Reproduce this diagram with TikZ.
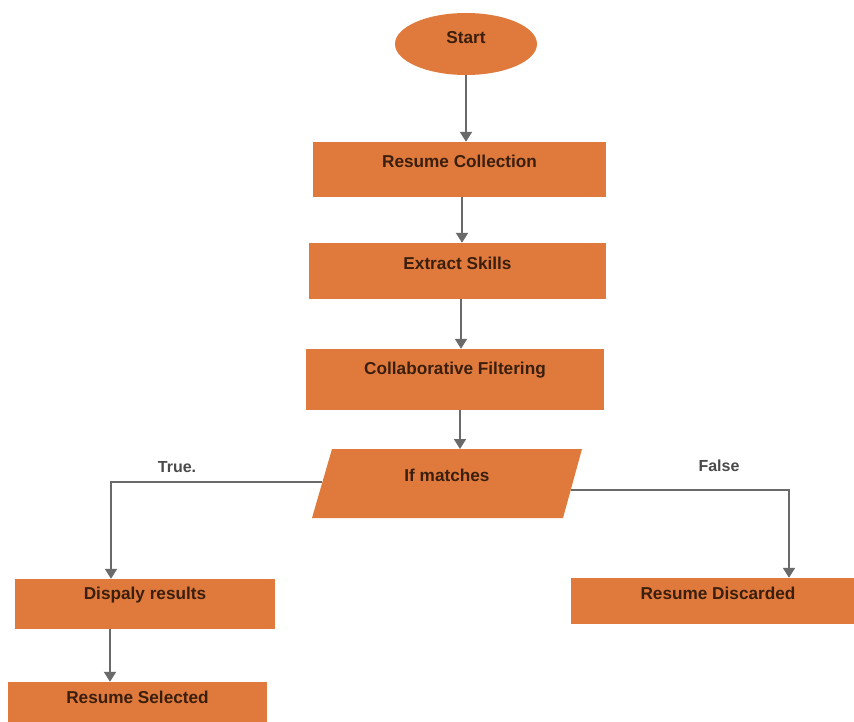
\documentclass[tikz,border=0pt]{standalone}
\usepackage{fontspec}
\setmainfont{Liberation Sans}
\usetikzlibrary{arrows.meta,shapes.geometric,calc}
\definecolor{boxfill}{HTML}{E07A3C}
\definecolor{boxtext}{HTML}{3A1E0E}
\definecolor{arrowc}{HTML}{6A6A6A}
\definecolor{lbltext}{HTML}{4A4A4A}
\begin{document}
\begin{tikzpicture}[x=1pt,y=-1pt,
  box/.style={rectangle, fill=boxfill, draw=none, inner sep=0pt},
  oval/.style={ellipse, fill=boxfill, draw=none, inner sep=0pt},
  txt/.style={text=boxtext, font=\fontsize{17.2}{19}\selectfont\bfseries, inner sep=0pt},
  lbl/.style={text=lbltext, font=\fontsize{16}{18}\selectfont\bfseries, inner sep=0pt},
  arr/.style={draw=arrowc, line width=1.9pt, -{Triangle[width=12pt,length=10pt]}},
  ln/.style={draw=arrowc, line width=1.6pt}
]
\useasboundingbox (0,0) rectangle (854,722);
\clip (0,0) rectangle (854,722);
\fill[white] (0,0) rectangle (854,722);

% nodes
\node[oval, minimum width=142, minimum height=62,
  label={[txt,yshift=6pt]center:Start}] (start) at (466,44) {};
\node[box, minimum width=293, minimum height=55,
  label={[txt,yshift=8.5pt]center:Resume Collection}] (rc) at (459.5,169.5) {};
\node[box, minimum width=297, minimum height=56,
  label={[txt,yshift=8pt]center:Extract Skills}] (es) at (457.5,271) {};
\node[box, minimum width=298, minimum height=61,
  label={[txt,yshift=9.5pt]center:Collaborative Filtering}] (cf) at (455,379.5) {};

% decision parallelogram
\coordinate (imTL) at (332,449);
\coordinate (imTR) at (582,449);
\coordinate (imBR) at (563,518);
\coordinate (imBL) at (312,518);
\fill[boxfill] (imTL) -- (imTR) -- (imBR) -- (imBL) -- cycle;
\node[txt] (im) at (447,475) {If matches};
\coordinate (imW) at (322.4,482);
\coordinate (imE) at (570.7,490);
\coordinate (imN) at (460,449);

\node[box, minimum width=260, minimum height=50,
  label={[txt,yshift=9pt]center:Dispaly results}] (dr) at (145,604) {};
\node[box, minimum width=259, minimum height=58,
  label={[txt,yshift=14pt]center:Resume Selected}] (rs) at (137.5,711) {};
\node[box, minimum width=294, minimum height=46,
  label={[txt,yshift=8pt]center:Resume Discarded}] (rd) at (718,601) {};

% labels
\node[lbl] (tl) at (177,467) {True.};
\node[lbl] (fl) at (719,466) {False};

% connectors
\draw[arr] (start.south) -- (start.south |- rc.north);
\draw[arr] ([xshift=2.5pt]rc.south) -- ([xshift=2.5pt]rc.south |- es.north);
\draw[arr] ([xshift=3.5pt]es.south) -- ([xshift=3.5pt]es.south |- cf.north);
\draw[arr] ([xshift=5pt]cf.south) -- (imN);
\draw[arr] (imW) -| ([xshift=-34pt]dr.north);
\draw[arr] (imE) -| ([xshift=71pt]rd.north);
\draw[arr] ([xshift=-35pt]dr.south) -- ([xshift=-35pt]dr.south |- rs.north);
\end{tikzpicture}
\end{document}
